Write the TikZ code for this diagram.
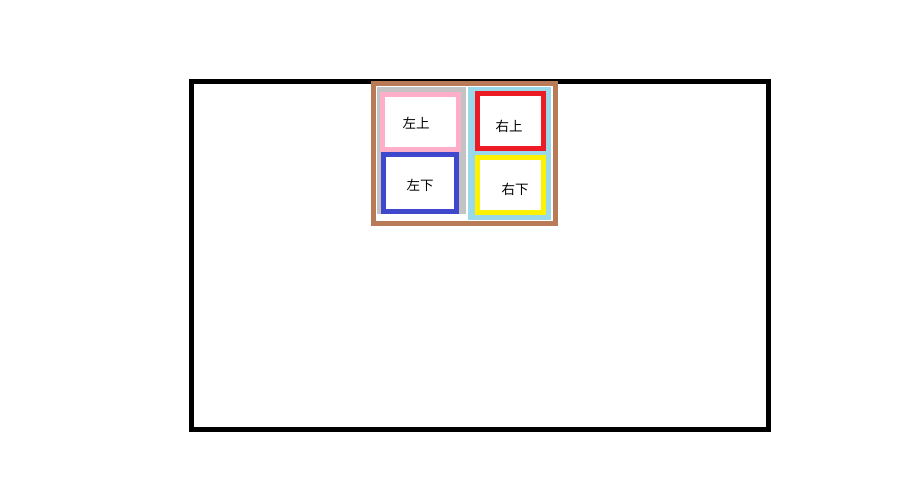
\documentclass[tikz,border=0pt]{standalone}
\usepackage{fontspec}
\newfontfamily\cjk{Noto Sans CJK SC}

\definecolor{boxBrown}{RGB}{185,122,87}
\definecolor{boxGray}{RGB}{195,195,195}
\definecolor{boxSky}{RGB}{153,217,234}
\definecolor{boxPink}{RGB}{255,174,201}
\definecolor{boxIndigo}{RGB}{63,72,204}
\definecolor{boxRed}{RGB}{237,28,36}
\definecolor{boxYellow}{RGB}{255,242,0}

\begin{document}
\begin{tikzpicture}[
        x=1pt, y=-1pt,
        frame/.style={line width=5pt, fill=white},
        label/.style={font=\cjk\fontsize{13.5}{13.5}\selectfont, inner sep=0pt}
    ]
        \useasboundingbox (0,0) rectangle (912,477);

        % Rahmen aussen
        \draw[frame, draw=black] (191.5,81.5) rectangle (768.5,429.5);

        % Container
        \draw[frame, draw=boxBrown] (373.5,83.5) rectangle (555.5,223.5);

        % Spalten
        \fill[boxGray] (377,87) rectangle (466,214.3);
        \fill[boxSky] (468,87) rectangle (551,220);

        % Felder links
        \draw[frame, draw=boxPink] (382.5,94.5) rectangle (458.5,149.2);
        \draw[frame, draw=boxIndigo] (383.5,154.2) rectangle (456.5,211.8);

        % Felder rechts
        \draw[frame, draw=boxRed] (477.5,93.5) rectangle (543.5,148.5);
        \draw[frame, draw=boxYellow] (477.5,157.5) rectangle (543.5,212.5);

        % Beschriftungen
        \node[label] (lo) at (416,123) {左上};
        \node[label] (ro) at (509,126) {右上};
        \node[label] (lu) at (420,185) {左下};
        \node[label] (ru) at (515,189) {右下};

    \end{tikzpicture}
\end{document}
